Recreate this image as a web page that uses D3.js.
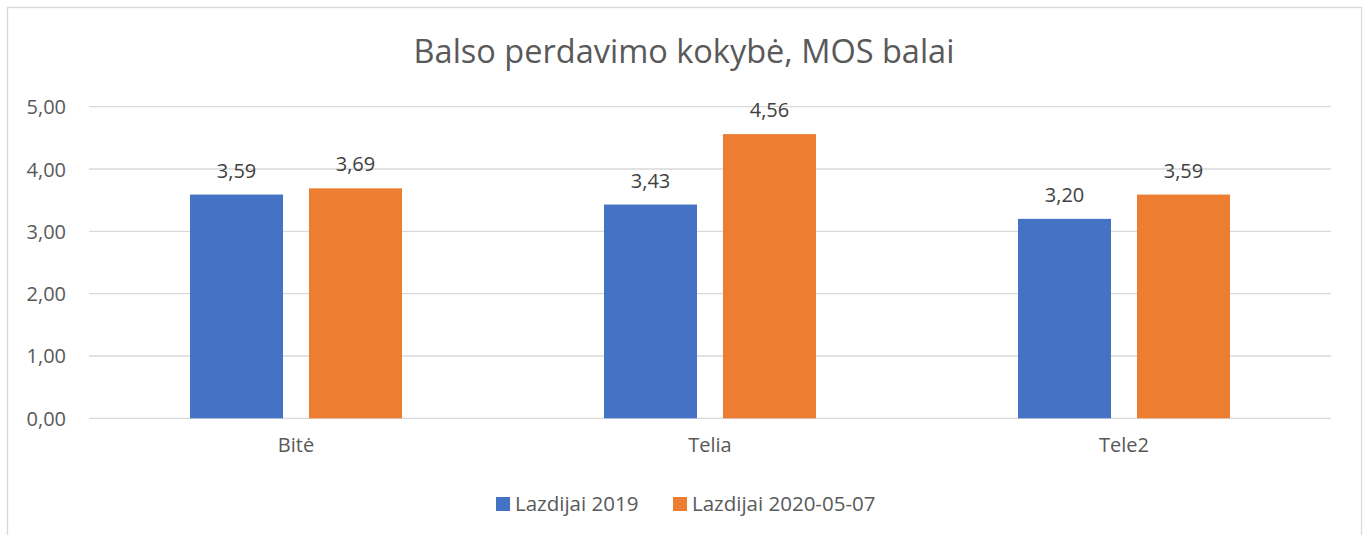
<!DOCTYPE html>
<html>
<head>
<meta charset="utf-8">
<script src="https://cdn.jsdelivr.net/npm/d3@7"></script>
<style>
  html, body { margin: 0; padding: 0; background: #fff; }
  text { font-family: "Open Sans", "Noto Sans", sans-serif; }
</style>
</head>
<body>
<svg id="chart" width="1369" height="535"></svg>
<script>
const categories = ["Bitė", "Telia", "Tele2"];
const seriesNames = ["Lazdijai 2019", "Lazdijai 2020-05-07"];
const series2019 = [3.59, 3.43, 3.20];
const series2020 = [3.69, 4.56, 3.59];
const yTicks = [0, 1, 2, 3, 4, 5];
const colors = ["#4472C4", "#ED7D31"];
const title = "Balso perdavimo kokybė, MOS balai";

const seriesValues = [series2019, series2020];
const data = categories.map((c, i) => ({
  category: c,
  values: seriesNames.map((s, j) => ({ series: s, idx: j, value: seriesValues[j][i] }))
}));

const svg = d3.select("#chart");

// chart border
svg.append("rect")
  .attr("x", 7.5).attr("y", 7.5)
  .attr("width", 1354).attr("height", 540)
  .attr("fill", "#fff").attr("stroke", "#D9D9D9").attr("stroke-width", 1.3);

const plot = { left: 89, right: 1331, top: 106.7, bottom: 418.3 };

const x0 = d3.scaleBand()
  .domain(categories)
  .range([plot.left, plot.right])
  .paddingInner(0.488)
  .paddingOuter(0.244);

const x1 = d3.scaleBand()
  .domain(seriesNames)
  .range([0, x0.bandwidth()])
  .paddingInner(0.2185)
  .paddingOuter(0);

const y = d3.scaleLinear().domain([0, 5]).range([plot.bottom, plot.top]);

const fmt = v => d3.format(".2f")(v).replace(".", ",");

// gridlines
svg.append("g")
  .selectAll("line")
  .data(yTicks)
  .join("line")
  .attr("x1", plot.left).attr("x2", plot.right)
  .attr("y1", d => y(d)).attr("y2", d => y(d))
  .attr("stroke", "#D9D9D9").attr("stroke-width", 1.3);

// y axis labels
const yAxis = d3.axisLeft(y).tickValues(yTicks).tickFormat(fmt).tickSize(0).tickPadding(23);
const gy = svg.append("g").attr("transform", `translate(${plot.left},0)`).call(yAxis);
gy.select(".domain").remove();
gy.selectAll("text")
  .attr("fill", "#595959")
  .style("font-size", "20px")
  .style("font-family", '"Open Sans", sans-serif')
  .attr("dy", "0.35em");

// bars
const groups = svg.append("g")
  .selectAll("g")
  .data(data)
  .join("g")
  .attr("transform", d => `translate(${x0(d.category)},0)`);

groups.selectAll("rect")
  .data(d => d.values)
  .join("rect")
  .attr("x", d => x1(d.series))
  .attr("width", x1.bandwidth())
  .attr("y", d => y(d.value))
  .attr("height", d => y(0) - y(d.value))
  .attr("fill", d => colors[d.idx]);

groups.selectAll("text.lbl")
  .data(d => d.values)
  .join("text")
  .attr("class", "lbl")
  .attr("x", d => x1(d.series) + x1.bandwidth() / 2)
  .attr("y", d => y(d.value) - 17)
  .attr("text-anchor", "middle")
  .attr("fill", "#404040")
  .style("font-size", "20px")
  .text(d => fmt(d.value));

// x axis labels
const xAxis = d3.axisBottom(x0).tickSize(0).tickPadding(20);
const gx = svg.append("g").attr("transform", `translate(0,${plot.bottom})`).call(xAxis);
gx.select(".domain").remove();
gx.selectAll("text")
  .attr("fill", "#595959")
  .style("font-size", "20px")
  .style("font-family", '"Open Sans", sans-serif');

// title
svg.append("text")
  .attr("x", 684).attr("y", 63)
  .attr("text-anchor", "middle")
  .attr("fill", "#595959")
  .style("font-size", "32.5px")
  .text(title);

// legend
const legend = svg.append("g").attr("transform", "translate(496,0)");
const legendItems = legend.selectAll("g")
  .data(seriesNames)
  .join("g")
  .attr("transform", (d, i) => `translate(${i === 0 ? 0 : 177},0)`);
legendItems.append("rect")
  .attr("x", 0).attr("y", 497)
  .attr("width", 14).attr("height", 14)
  .attr("fill", (d, i) => colors[i]);
legendItems.append("text")
  .attr("x", 19).attr("y", 511)
  .attr("fill", "#595959")
  .style("font-size", "20.5px")
  .text(d => d);
</script>
</body>
</html>
